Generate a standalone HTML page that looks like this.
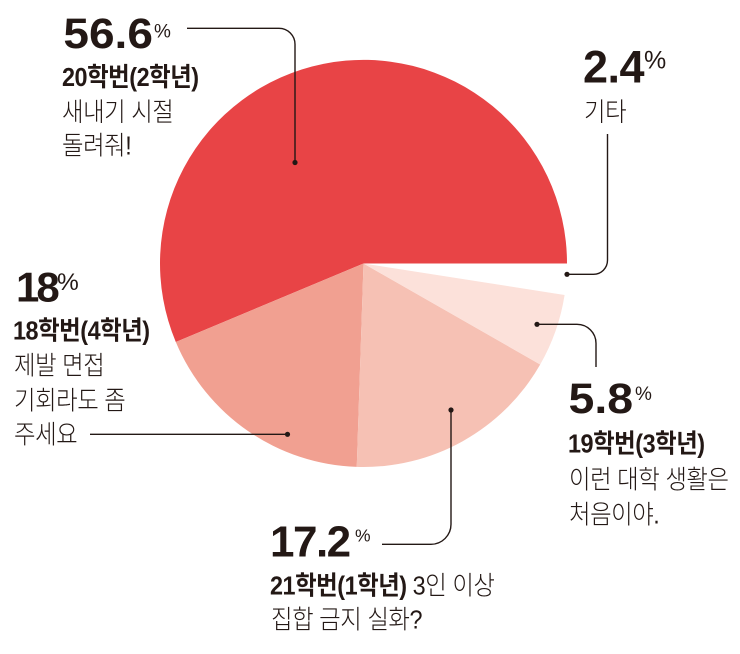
<!DOCTYPE html>
<html>
<head>
<meta charset="utf-8">
<style>
  html, body { margin: 0; padding: 0; background: #ffffff; }
  body { width: 740px; height: 654px; overflow: hidden; }
  svg { display: block; }
  .num { font-family: "Liberation Sans", sans-serif; font-weight: 700; fill: #231815; }
  .pct { font-family: "Liberation Sans", sans-serif; font-weight: 400; fill: #231815; }
  .hd { font-family: "Liberation Sans", "Noto Sans CJK KR", sans-serif; font-weight: 700; font-size: 26px; letter-spacing: -0.5px; fill: #231815; }
  .tx { font-family: "Liberation Sans", "Noto Sans CJK KR", sans-serif; font-weight: 300; font-size: 26px; letter-spacing: -0.5px; fill: #231815; }
  .ln { fill: none; stroke: #231815; stroke-width: 1.4; }
  .dot { fill: #231815; }
</style>
</head>
<body>
<svg width="740" height="654" viewBox="0 0 740 654" xmlns="http://www.w3.org/2000/svg">
  <!-- Pie -->
  <path d="M363.5,263.5 L567,263.5 A203.5,203.5 0 1 0 175.8,342 Z" fill="#E84446"/>
  <path d="M363.5,263.5 L175.8,342 A203.5,203.5 0 0 0 356.75,466.9 Z" fill="#F1A091"/>
  <path d="M363.5,263.5 L356.75,466.9 A203.5,203.5 0 0 0 540.2,364.5 Z" fill="#F6C1B4"/>
  <path d="M363.5,263.5 L540.2,364.5 A203.5,203.5 0 0 0 564.6,295 Z" fill="#FCE1DA"/>

  <!-- Leader lines -->
  <path class="ln" d="M187,28.3 H279 A16,16 0 0 1 295,44.3 V162.5"/>
  <circle class="dot" cx="295" cy="162.5" r="2.6"/>

  <path class="ln" d="M607.5,134 V260.3 A14,14 0 0 1 593.5,274.3 H567"/>
  <circle class="dot" cx="567" cy="274.3" r="2.6"/>

  <path class="ln" d="M537,324.3 H577 A19,19 0 0 1 596,343.3 V367"/>
  <circle class="dot" cx="537" cy="324.3" r="2.6"/>

  <path class="ln" d="M90,434.3 H287.5"/>
  <circle class="dot" cx="287.5" cy="434.3" r="2.6"/>

  <path class="ln" d="M451,410 V524.3 A20,20 0 0 1 431,544.3 H382"/>
  <circle class="dot" cx="451" cy="410" r="2.6"/>

  <!-- 56.6% -->
  <text class="num" transform="translate(63.4,48) scale(1.07,1)" x="0" y="0" font-size="43">56.6</text>
  <text class="pct" x="154" y="37.3" font-size="19">%</text>
  <text class="hd" transform="translate(62,86) scale(0.9,1)" x="0" y="0">20학번(2학년)</text>
  <text class="tx" transform="translate(62,121) scale(0.9,1)" x="0" y="0">새내기 시절</text>
  <text class="tx" transform="translate(62,154.5) scale(0.9,1)" x="0" y="0">돌려줘!</text>

  <!-- 2.4% -->
  <text class="num" x="583" y="82.5" font-size="45" letter-spacing="-0.5">2.4</text>
  <text class="pct" x="644" y="68.5" font-size="25">%</text>
  <text class="tx" transform="translate(584,121) scale(0.9,1)" x="0" y="0">기타</text>

  <!-- 18% -->
  <text class="num" x="16" y="301.5" font-size="42" letter-spacing="-3">18</text>
  <text class="pct" x="57" y="290" font-size="24.5">%</text>
  <text class="hd" transform="translate(13,339.5) scale(0.9,1)" x="0" y="0">18학번(4학년)</text>
  <text class="tx" transform="translate(14,374.5) scale(0.9,1)" x="0" y="0">제발 면접</text>
  <text class="tx" transform="translate(14,409.5) scale(0.9,1)" x="0" y="0">기회라도 좀</text>
  <text class="tx" transform="translate(14,443.5) scale(0.9,1)" x="0" y="0">주세요</text>

  <!-- 5.8% -->
  <text class="num" transform="translate(568.5,413) scale(1.08,1)" x="0" y="0" font-size="43">5.8</text>
  <text class="pct" x="635" y="400" font-size="19">%</text>
  <text class="hd" transform="translate(568,452.5) scale(0.9,1)" x="0" y="0">19학번(3학년)</text>
  <text class="tx" transform="translate(569,488.5) scale(0.9,1)" x="0" y="0">이런 대학 생활은</text>
  <text class="tx" transform="translate(569,523.5) scale(0.9,1)" x="0" y="0">처음이야.</text>

  <!-- 17.2% -->
  <text class="num" x="270" y="556.5" font-size="44" letter-spacing="-1.5">17.2</text>
  <text class="pct" x="355" y="541.7" font-size="17.5">%</text>
  <text transform="translate(270,594.5) scale(0.9,1)" x="0" y="0"><tspan class="hd">21학번(1학년)</tspan><tspan class="tx"> 3인 이상</tspan></text>
  <text class="tx" transform="translate(271,628.5) scale(0.9,1)" x="0" y="0">집합 금지 실화?</text>
</svg>
</body>
</html>
